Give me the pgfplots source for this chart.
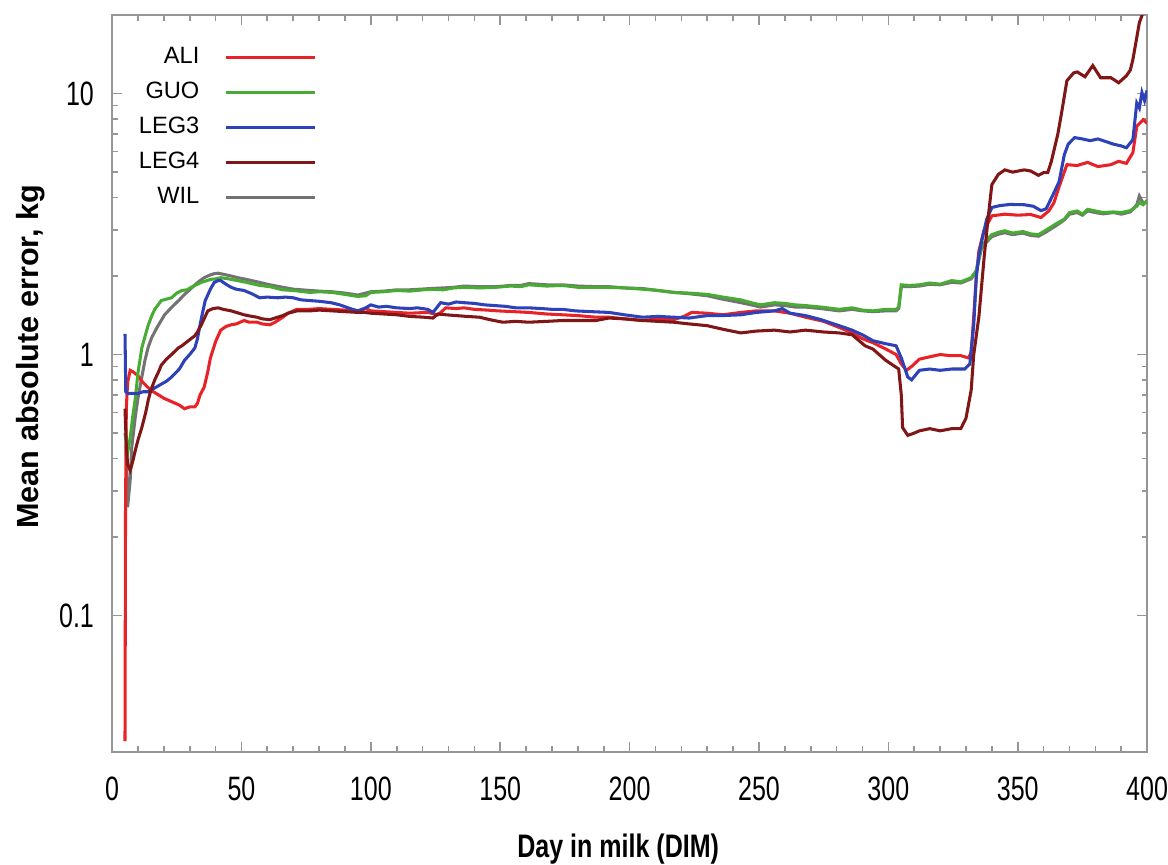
\documentclass[border=0pt]{standalone}
\usepackage{pgfplots}
\pgfplotsset{compat=1.18}
\usepackage{fontspec}
\setmainfont{Liberation Sans}

\definecolor{cali}{RGB}{232,35,40}
\definecolor{cguo}{RGB}{72,172,52}
\definecolor{cleg3}{RGB}{45,65,185}
\definecolor{cleg4}{RGB}{128,22,22}
\definecolor{cwil}{RGB}{115,115,115}
\definecolor{caxis}{RGB}{150,150,150}

\begin{document}
\begin{tikzpicture}
\begin{axis}[
    name=ax,
    scale only axis,
    width=372.2pt, height=265pt,
    xmin=0, xmax=400,
    ymode=log, ymin=0.03, ymax=20,
    xtick={0,50,...,400},
    xticklabels={0,50,100,150,200,250,300,350,400},
    minor x tick num=4,
    ytick={0.1,1,10},
    yticklabels={0.1,1,10},
    tick align=inside,
    axis line style={caxis, line width=0.6pt},
    every tick/.style={caxis, line width=0.6pt},
    major tick length=3.5pt, minor tick length=2pt,
    xticklabel style={font=\fontsize{9}{10}\selectfont, yscale=1.35, yshift=-3pt, inner xsep=0pt},
    yticklabel style={font=\fontsize{9}{10}\selectfont, yscale=1.35, xshift=-3pt},
    xlabel={Day in milk (DIM)},
    ylabel={Mean absolute error, kg},
    xlabel style={font=\bfseries\fontsize{9}{10}\selectfont, yscale=1.3, inner sep=0pt,
        at={(axis description cs:0.489,-0.1438)}, anchor=base},
    ylabel style={font=\bfseries\fontsize{11}{12}\selectfont, inner sep=0pt,
        at={(axis description cs:-0.079,0.536)}, anchor=center},
    legend plot pos=right,
    legend cell align=right,
    legend image code/.code={\draw[#1] (0pt,-1pt) -- (32pt,-1pt);},
    legend style={at={(axis description cs:0.198,0.958)}, anchor=north east,
        draw=none, fill=none, inner sep=0pt,
        font=\fontsize{8.5}{9}\selectfont,
        nodes={inner sep=0pt, text height=6pt, text depth=0pt},
        row sep=6.6pt, column sep=9pt},
    every axis plot/.append style={line width=1.1pt},
]
% WIL drawn first so that GUO lies over it; its legend entry is added last
\addplot[cwil, forget plot] coordinates {
(5.5,0.45) (6,0.26) (7,0.33) (7.6,0.44) (9,0.58) (10,0.68) (11.5,0.82) (12.7,0.95)
(14,1.07) (15.3,1.16) (17,1.25) (18,1.30) (20.3,1.42) (22,1.48) (24,1.55) (26,1.62)
(28,1.70) (30,1.77) (32,1.85) (34,1.92) (35.6,1.97) (37.5,2.01) (39.4,2.04)
(41,2.05) (43,2.03) (46,2.00) (48.6,1.97) (52,1.94) (57,1.89) (61,1.85) (66,1.81)
(70,1.78) (76.5,1.76) (80,1.75) (85,1.74) (90,1.72) (95,1.69) (98,1.72) (100,1.74)
(105,1.75) (110,1.77) (115,1.77) (123,1.79) (128,1.80) (132,1.81) (136,1.83)
(142,1.82) (148.5,1.82) (154,1.84) (158,1.84) (161,1.87) (168,1.85) (174,1.85)
(180,1.83) (187,1.82) (192,1.82) (198,1.80) (205,1.79) (211,1.76) (217,1.73)
(223,1.71) (230,1.68) (236,1.63) (243,1.58) (247,1.55) (250.6,1.52) (256,1.55)
(260,1.54) (264,1.52) (268,1.52) (274,1.50) (281,1.47) (286,1.49) (290,1.47)
(294,1.46) (299,1.47) (303,1.47) (304,1.50) (305,1.82) (308,1.82) (312,1.83)
(316,1.86) (320,1.85) (324.5,1.89) (328,1.88) (332,1.95) (334,2.08) (335,2.3)
(336,2.55) (338,2.7) (340,2.83) (343,2.9) (345,2.93) (348,2.88) (352,2.92)
(355,2.86) (358,2.84) (361,2.95) (365.5,3.15) (368,3.28) (370,3.45) (373,3.5)
(375,3.42) (377,3.55) (380,3.5) (383,3.46) (387,3.5) (390,3.45) (393.5,3.52)
(396,3.75) (397,4.05) (398.5,3.8) (400,3.85)
};
% ALI
\addplot[cali] coordinates {
(5,0.033) (5.2,0.25) (5.5,0.62) (6,0.78) (7,0.87) (8,0.86) (10,0.83) (12,0.78)
(15,0.73) (18,0.70) (20,0.68) (23,0.66) (26,0.64) (28,0.62) (30,0.63) (32,0.63)
(33,0.65) (34,0.70) (35.6,0.75) (37,0.86) (38,0.97) (40,1.12) (42,1.24) (44,1.28)
(46,1.30) (48,1.31) (51,1.35) (53,1.33) (56,1.33) (58,1.31) (61,1.30) (63,1.33)
(66,1.39) (68,1.44) (71.5,1.49) (76,1.49) (80,1.50) (85,1.49) (90,1.48) (95,1.46)
(98,1.50) (100,1.47) (105,1.46) (110,1.45) (115,1.44) (122,1.45) (126,1.42)
(129,1.51) (133,1.50) (136,1.51) (140,1.49) (145,1.48) (149,1.47) (155,1.46)
(161,1.45) (168,1.43) (174,1.42) (180,1.41) (187,1.39) (192,1.39) (198,1.37)
(205,1.35) (211,1.37) (217,1.36) (221,1.40) (224,1.45) (230,1.44) (236,1.42)
(243,1.45) (249,1.47) (256,1.47) (262,1.44) (268,1.39) (275,1.34) (281,1.27)
(286,1.21) (290,1.15) (294,1.11) (299,1.05) (303,1.00) (305,0.92) (307,0.87)
(309,0.90) (312,0.96) (316,0.98) (320,1.00) (324,0.99) (328,0.99) (331,0.97)
(332,1.02) (333,1.4) (334,2.0) (335,2.5) (337,3.0) (340,3.4) (345,3.45) (350,3.42)
(355,3.44) (359,3.35) (362,3.55) (364,3.82) (366,4.4) (369,5.34) (373,5.3)
(377,5.45) (381,5.25) (386,5.34) (389,5.5) (392,5.4) (394.5,5.94) (396,7.5)
(398.5,7.94) (400,7.7)
};
\addlegendentry{ALI}
% GUO
\addplot[cguo] coordinates {
(5,0.5) (6,0.42) (7,0.48) (8,0.58) (9,0.68) (10,0.85) (11.5,1.06) (13,1.20)
(14,1.30) (15.5,1.42) (16.5,1.49) (18,1.56) (19,1.61) (21,1.63) (23,1.65) (25,1.72)
(27,1.76) (29,1.77) (30.6,1.81) (32.5,1.85) (34.5,1.89) (36,1.91) (38,1.94)
(40,1.95) (42,1.97) (45,1.95) (48.6,1.92) (52,1.89) (57,1.84) (61,1.82) (66,1.77)
(70,1.76) (76.5,1.73) (80,1.74) (85,1.73) (90,1.70) (95,1.67) (98,1.68) (100,1.73)
(105,1.74) (110,1.76) (115,1.75) (123,1.78) (128,1.77) (132,1.80) (136,1.81)
(142,1.80) (148.5,1.81) (154,1.83) (158,1.82) (161,1.85) (168,1.83) (174,1.84)
(180,1.81) (187,1.81) (192,1.81) (198,1.80) (205,1.78) (211,1.76) (217,1.73)
(223,1.72) (230,1.70) (236,1.66) (243,1.62) (247,1.58) (250.6,1.55) (256,1.58)
(260,1.57) (264,1.55) (268,1.54) (274,1.52) (281,1.49) (286,1.51) (290,1.48)
(294,1.47) (299,1.49) (303,1.49) (304,1.52) (305,1.85) (308,1.84) (312,1.85)
(316,1.88) (320,1.86) (324.5,1.92) (328,1.90) (332,1.97) (334,2.1) (335,2.35)
(336,2.6) (338,2.75) (340,2.88) (343,2.95) (345,2.98) (348,2.92) (352,2.96)
(355,2.9) (358,2.88) (361,3.0) (365.5,3.2) (368,3.3) (370,3.5) (373,3.55)
(375,3.45) (377,3.6) (380,3.55) (383,3.5) (387,3.52) (390,3.5) (393.5,3.56)
(396,3.7) (397,3.82) (398.5,3.75) (400,3.9)
};
\addlegendentry{GUO}
% LEG3
\addplot[cleg3] coordinates {
(5,1.2) (5.3,0.72) (6,0.71) (8,0.71) (10,0.71) (12,0.72) (14,0.72) (16,0.74)
(19,0.77) (21,0.79) (23,0.82) (26,0.88) (28,0.95) (30,1.0) (32,1.06) (33,1.15)
(34,1.30) (35,1.45) (36,1.61) (38,1.78) (39.5,1.89) (41,1.92) (42,1.92) (44,1.86)
(46,1.81) (48,1.78) (51,1.76) (54,1.71) (57,1.65) (60,1.66) (64,1.65) (67,1.66)
(70,1.65) (73,1.62) (76.5,1.61) (80,1.60) (84.6,1.58) (88,1.55) (92,1.50)
(95,1.47) (98,1.51) (100,1.55) (103,1.52) (106,1.53) (110,1.51) (115,1.50)
(118,1.51) (122,1.49) (124,1.45) (127,1.58) (130,1.56) (133,1.59) (136,1.58)
(140,1.57) (144,1.55) (148,1.54) (152,1.53) (156,1.51) (161,1.51) (166,1.50)
(170,1.49) (174,1.49) (179,1.47) (185,1.46) (192,1.45) (198,1.42) (205,1.39)
(211,1.40) (217,1.39) (223,1.38) (230,1.41) (236,1.41) (243,1.42) (249,1.45)
(256,1.47) (259,1.50) (262,1.44) (268,1.41) (274,1.36) (281,1.29) (286,1.24)
(290,1.19) (294,1.13) (299,1.10) (303,1.08) (305,0.97) (307.5,0.82) (309,0.80)
(312,0.87) (316,0.88) (320,0.87) (324.5,0.88) (329.5,0.88) (331.5,0.92) (333,1.3)
(334,2.0) (335,2.4) (336,2.7) (338,3.3) (340,3.66) (343,3.72) (347,3.76)
(352.5,3.75) (356,3.7) (359,3.56) (361,3.62) (364,4.17) (366,4.6) (368,5.83)
(369.5,6.4) (372,6.78) (375,6.7) (378,6.6) (381,6.7) (383,6.6) (387,6.4) (390,6.3)
(392,6.2) (394.5,6.66) (396,9.2) (397,8.8) (398,10.1) (399,9.4) (400,10.3)
};
\addlegendentry{LEG3}
% LEG4
\addplot[cleg4] coordinates {
(5,0.62) (5.5,0.45) (6,0.38) (7,0.36) (8,0.39) (9,0.43) (10,0.47) (11.5,0.525)
(13,0.60) (14,0.67) (15,0.73) (16.5,0.80) (18,0.86) (19,0.91) (21,0.96) (23,1.0)
(25.6,1.06) (27,1.08) (29.5,1.13) (32,1.18) (33,1.22) (34.5,1.30) (36,1.40)
(37,1.47) (39,1.50) (41,1.51) (43,1.49) (46,1.47) (48,1.45) (51,1.42) (54,1.40)
(56,1.39) (58,1.37) (61,1.36) (63,1.38) (66,1.41) (68,1.44) (71.5,1.47) (76.5,1.47)
(80,1.48) (85,1.47) (90,1.46) (95,1.45) (97.6,1.45) (100,1.44) (105,1.43)
(110,1.42) (115,1.40) (120.5,1.39) (124,1.38) (126,1.43) (129,1.42) (133,1.41)
(137,1.40) (142,1.39) (146,1.36) (151,1.33) (156,1.34) (161,1.33) (168,1.34)
(174,1.35) (180,1.35) (187,1.35) (192,1.38) (198,1.37) (205,1.35) (211,1.34)
(217,1.33) (223,1.31) (230,1.29) (236,1.25) (243,1.21) (249,1.23) (256,1.24)
(262,1.22) (268,1.24) (275,1.22) (281,1.21) (286,1.19) (291,1.08) (294,1.05)
(299,0.95) (304,0.88) (305,0.70) (305.5,0.525) (307.5,0.49) (310,0.50) (312,0.51)
(316,0.52) (320,0.51) (324.5,0.52) (328,0.52) (330,0.57) (332,0.73) (333,1.0)
(335,1.4) (337,2.35) (338.5,3.3) (340,4.48) (342.5,4.9) (345,5.1) (348,5.0)
(352.5,5.1) (355,5.05) (358,4.86) (360,4.98) (361.6,4.98) (363,5.5) (365.5,7.0)
(367,8.5) (369,11.2) (371.6,12.0) (373,12.1) (376,11.6) (379,12.8) (382,11.5)
(386,11.5) (389,11.0) (392,11.7) (393.5,12.3) (394.5,13.5) (396,16.4) (397,18.7)
(398.5,20.5)
};
\addlegendentry{LEG4}
\addlegendimage{cwil, line width=1.1pt}
\addlegendentry{WIL}
\end{axis}
\path (ax.south west) ++(-40.3pt,-39.9pt) coordinate (bbl);
\path (ax.north east) ++(7.5pt,5.4pt) coordinate (bbr);
\path (bbl) rectangle (bbr);
\end{tikzpicture}
\end{document}
